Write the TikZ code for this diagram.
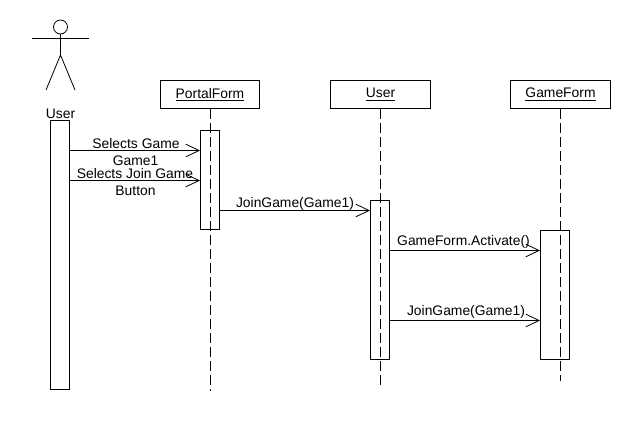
\documentclass[tikz,border=0pt]{standalone}
\usepackage{fontspec}
\setmainfont{Liberation Sans}
\usetikzlibrary{arrows.meta,positioning}

\begin{document}
\begin{tikzpicture}[
    x=0.75pt, y=-0.75pt,
    line width=0.6pt,
    head/.style={draw, minimum width=74.5pt, minimum height=21.5pt, inner sep=0pt, font=\fontsize{10.4}{12}\selectfont},
    bar/.style={draw, fill=white, anchor=north west, inner sep=0pt},
    life/.style={dash pattern=on 7pt off 3.5pt},
    msg/.style={-{Straight Barb[length=10pt, width=9.5pt]}},
    lbl/.style={font=\fontsize{10.4}{12}\selectfont, inner sep=0pt}
  ]
    \useasboundingbox (0,0) rectangle (630,430);
    % header boxes
    \node[head] (portal) at (210,94.5) {\underline{PortalForm}};
    \node[head, right=52.8pt of portal] (user) {\underline{User}};
    \node[head, right=59.9pt of user] (game) {\underline{GameForm}};
    % activation bars
    \node[bar, minimum width=14pt, minimum height=201.5pt] (actorbar) at (50,120) {};
    \node[bar, minimum width=14pt, minimum height=74pt] (portalbar) at (200,130) {};
    \node[bar, minimum width=14pt, minimum height=119pt] (userbar) at (370,200) {};
    \node[bar, minimum width=21.5pt, minimum height=97pt] (gamebar) at (540,230) {};
    % lifelines
    \coordinate (portalend) at (portal.south |- 0,391);
    \coordinate (userend) at (user.south |- 0,389);
    \coordinate (gameend) at (game.south |- 0,381);
    \draw[life] (portal.south) -- (portalend);
    \draw[life] (user.south) -- (userend);
    \draw[life] (game.south) -- (gameend);
    % actor
    \node[draw, circle, minimum size=10.5pt, inner sep=0pt] (actorhead) at (60.5,27) {};
    \coordinate (hip) at (60.5,55);
    \coordinate (armleft) at (32,38);
    \coordinate (armright) at (89,38);
    \coordinate (legleft) at (46,90);
    \coordinate (legright) at (75,90);
    \draw (actorhead.south) -- (hip);
    \draw (armleft) -- (armright);
    \draw (legleft) -- (hip) -- (legright);
    \node[lbl] (actorname) at (60.5,114) {User};
    % messages
    \coordinate (m1) at (0,150.5);
    \coordinate (m2) at (0,180.5);
    \coordinate (m3) at (0,210.5);
    \coordinate (m4) at (0,250.5);
    \coordinate (m5) at (0,320.5);
    \draw[msg] (actorbar.east |- m1) -- (portalbar.west |- m1);
    \draw[msg] (actorbar.east |- m2) -- (portalbar.west |- m2);
    \draw[msg] (portalbar.east |- m3) -- (userbar.west |- m3);
    \draw[msg] (userbar.east |- m4) -- (gamebar.west |- m4);
    \draw[msg] (userbar.east |- m5) -- (gamebar.west |- m5);
    % message labels
    \node[lbl] (sel1) at (136,143.5) {Selects Game};
    \node[lbl] (sel2) at (135.5,160.5) {Game1};
    \node[lbl] (sel3) at (135,173.5) {Selects Join Game};
    \node[lbl] (sel4) at (135.5,190.5) {Button};
    \node[lbl] (join1) at (295,203.5) {JoinGame(Game1)};
    \node[lbl] (act) at (463.5,241.5) {GameForm.Activate()};
    \node[lbl] (join2) at (466,311.5) {JoinGame(Game1)};
  \end{tikzpicture}
\end{document}
